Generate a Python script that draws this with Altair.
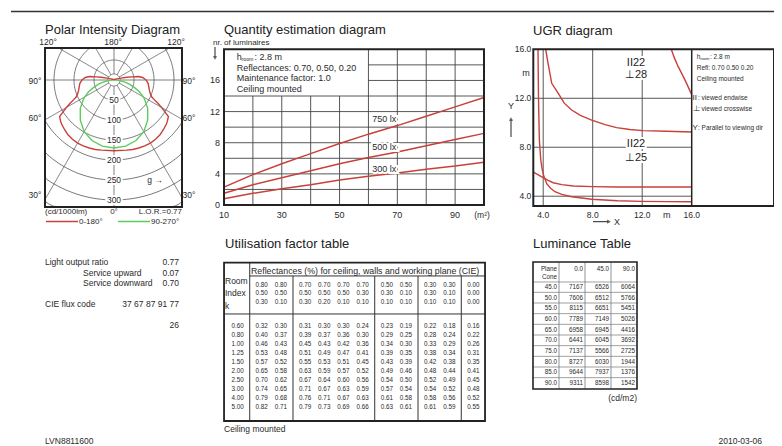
import altair as alt
import pandas as pd
import numpy as np

# ============================ DATA ============================
# Polar intensity (cd/1000 lm) versus gamma angle
polar_red_angle = [0, 10, 15, 20, 25, 30, 35, 40, 45, 50, 52, 56, 58, 60, 62, 64, 66, 70, 74, 80, 84, 90, 95, 98, 100, 102, 105, 110, 120, 150, 180]
polar_red_cd = [177, 178, 180, 181, 182, 182, 181, 179, 175, 171, 169, 164, 150, 137, 125, 112, 103, 96, 92, 88, 86, 80, 72, 62, 45, 33, 18, 8, 4, 1, 0]
polar_green_angle = [0, 10, 20, 30, 40, 50, 57, 60, 65, 70, 75, 80, 85, 90, 95, 180]
polar_green_cd = [170, 168, 161, 149, 131, 110, 92, 85, 70, 54, 40, 26, 14, 5, 0, 0]
polar_ring_labels = [50, 100, 150, 200, 250, 300]
polar_rings = [15, 50, 100, 150, 200, 250, 300, 350]
polar_spokes = [0, 30, 60, 90, 120, 150, 180, 210, 240, 270, 300, 330]

# Quantity estimation: number of luminaires vs room area (m2)
qty_area = [10, 20, 30, 40, 50, 60, 70, 80, 90, 100]
qty_750 = [2.3, 3.9, 5.3, 6.6, 7.9, 9.1, 10.2, 11.4, 12.6, 13.8]
qty_500 = [1.5, 2.6, 3.5, 4.4, 5.3, 6.1, 6.8, 7.6, 8.4, 9.2]
qty_300 = [0.8, 1.5, 2.1, 2.6, 3.2, 3.7, 4.1, 4.6, 5.0, 5.5]
qty_x_ticks = [10, 30, 50, 70, 90]
qty_y_ticks = [0, 4, 8, 12, 16]

# UGR diagram contours (X, Y in m)
ugr_a_x = [3.58, 3.62, 3.69, 3.8, 3.92, 4.06, 4.3, 4.6, 4.95, 5.5, 6.3, 7.92, 10.0, 12.0, 14.0, 16.0]
ugr_a_y = [16.0, 12.0, 8.6, 7.0, 6.2, 5.6, 5.0, 4.65, 4.37, 4.15, 3.96, 3.75, 3.63, 3.58, 3.56, 3.55]
ugr_b_x = [3.2, 3.6, 4.0, 4.4, 4.81, 5.5, 6.43, 8.0, 9.93, 12.0, 14.0, 16.0]
ugr_b_y = [5.97, 5.75, 5.51, 5.3, 5.1, 4.95, 4.83, 4.78, 4.75, 4.75, 4.75, 4.75]
ugr_c_x = [4.2, 4.4, 4.69, 5.22, 5.7, 6.3, 7.0, 7.92, 9.0, 9.93, 11.0, 12.07, 14.0, 16.0]
ugr_c_y = [16.0, 14.8, 13.22, 12.4, 11.6, 11.04, 10.6, 10.22, 9.85, 9.6, 9.45, 9.36, 9.3, 9.25]
ugr_d_x = [14.35, 14.6, 14.9, 15.18, 15.5, 16.0]
ugr_d_y = [16.0, 15.3, 14.6, 14.05, 13.4, 12.3]
ugr_ticks = [4.0, 8.0, 12.0, 16.0]
ugr_grid = [4.0, 8.0, 12.0]
ugr_labels = ["II22", "\u22a528", "II22", "\u22a525"]
ugr_label_x = [11.5, 11.5, 11.5, 11.5]
ugr_label_y = [14.9, 13.9, 8.27, 7.15]

# Utilisation factor table
uf_groups = [2, 4, 2, 2, 1]
uf_ceiling = ["0.80", "0.80", "0.70", "0.70", "0.70", "0.70", "0.50", "0.50", "0.30", "0.30", "0.00"]
uf_walls = ["0.50", "0.50", "0.50", "0.50", "0.50", "0.30", "0.30", "0.10", "0.30", "0.10", "0.00"]
uf_plane = ["0.30", "0.10", "0.30", "0.20", "0.10", "0.10", "0.10", "0.10", "0.10", "0.10", "0.00"]
uf_room_index = ["0.60", "0.80", "1.00", "1.25", "1.50", "2.00", "2.50", "3.00", "4.00", "5.00"]
uf_values = [
    ["0.32", "0.30", "0.31", "0.30", "0.30", "0.24", "0.23", "0.19", "0.22", "0.18", "0.16"],
    ["0.40", "0.37", "0.39", "0.37", "0.36", "0.30", "0.29", "0.25", "0.28", "0.24", "0.22"],
    ["0.46", "0.43", "0.45", "0.43", "0.42", "0.36", "0.34", "0.30", "0.33", "0.29", "0.26"],
    ["0.53", "0.48", "0.51", "0.49", "0.47", "0.41", "0.39", "0.35", "0.38", "0.34", "0.31"],
    ["0.57", "0.52", "0.55", "0.53", "0.51", "0.45", "0.43", "0.39", "0.42", "0.38", "0.35"],
    ["0.65", "0.58", "0.63", "0.59", "0.57", "0.52", "0.49", "0.46", "0.48", "0.44", "0.41"],
    ["0.70", "0.62", "0.67", "0.64", "0.60", "0.56", "0.54", "0.50", "0.52", "0.49", "0.45"],
    ["0.74", "0.65", "0.71", "0.67", "0.63", "0.59", "0.57", "0.54", "0.54", "0.52", "0.48"],
    ["0.79", "0.68", "0.76", "0.71", "0.67", "0.63", "0.61", "0.58", "0.58", "0.56", "0.52"],
    ["0.82", "0.71", "0.79", "0.73", "0.69", "0.66", "0.63", "0.61", "0.61", "0.59", "0.55"],
]

# Luminance table (cd/m2)
lum_header = ["0.0", "45.0", "90.0"]
lum_cone = ["45.0", "50.0", "55.0", "60.0", "65.0", "70.0", "75.0", "80.0", "85.0", "90.0"]
lum_c0 = [7167, 7606, 8115, 7789, 6958, 6441, 7137, 8727, 9644, 9311]
lum_c45 = [6526, 6512, 6651, 7149, 6945, 6045, 5566, 6030, 7937, 8598]
lum_c90 = [6064, 5766, 5451, 5026, 4416, 3692, 2725, 1944, 1376, 1542]

# ============================ STYLE ============================
FONT = "Liberation Sans"
TXT = "#2a2a2a"
GRID = "#555555"
DARK = "#222222"
RED = "#c8403c"
GREEN = "#5ccc5c"
M = 8  # page margin
W, H = 766, 438


def sc(d0, d1, p0, p1, clamp=False):
    kw = dict(domain=[d0, d1], range=[p0 - M, p1 - M], nice=False, zero=False)
    if clamp:
        kw["clamp"] = True
    return alt.Scale(**kw)


def xy(sx, sy):
    return dict(x=alt.X("x:Q", scale=sx, axis=None), y=alt.Y("y:Q", scale=sy, axis=None))


def texts(df, sx, sy, size, align="left", baseline="middle", color=TXT, halo=False, dx=0, dy=0):
    enc = xy(sx, sy)
    enc["text"] = alt.Text("t:N")
    props = dict(font=FONT, fontSize=size, align=align, baseline=baseline, dx=dx, dy=dy)
    out = []
    if halo:
        out.append(alt.Chart(df).mark_text(stroke="white", strokeWidth=4, fill="white", **props).encode(**enc))
    out.append(alt.Chart(df).mark_text(fill=color, **props).encode(**enc))
    return out


def T(xs, ys, ts):
    return pd.DataFrame({"x": xs, "y": ys, "t": ts})


def rules(df, sx, sy, color=GRID, width=0.8):
    return alt.Chart(df).mark_rule(color=color, strokeWidth=width).encode(
        x=alt.X("x:Q", scale=sx, axis=None), x2="x2:Q",
        y=alt.Y("y:Q", scale=sy, axis=None), y2="y2:Q")


def seg(x, x2, y, y2):
    return pd.DataFrame({"x": x, "x2": x2, "y": y, "y2": y2})


def frame(x0, x1, y0, y1, sx, sy, width=1.8, color=DARK):
    df = pd.DataFrame({"x": [x0], "x2": [x1], "y": [y0], "y2": [y1]})
    return alt.Chart(df).mark_rect(fill="white", fillOpacity=0, stroke=color, strokeWidth=width).encode(
        x=alt.X("x:Q", scale=sx, axis=None), x2="x2:Q",
        y=alt.Y("y:Q", scale=sy, axis=None), y2="y2:Q")


# ============================ PAGE PANEL ============================
spx = sc(0, 782, 0, 782)
spy = sc(0, 446, 0, 446)
page = []
page.append(alt.Chart(pd.DataFrame({"a": [0]})).mark_rule(color="#333333", strokeWidth=1.5).encode(
    x=alt.value(3), x2=alt.value(W), y=alt.value(3.5)))
page += texts(T([45, 224, 533, 225, 533], [34, 34, 35, 247.5, 248],
                ["Polar Intensity Diagram", "Quantity estimation diagram", "UGR diagram",
                 "Utilisation factor table", "Luminance Table"]), spx, spy, 13, baseline="alphabetic", color=DARK)
# polar angle labels
page += texts(T([48, 113, 176, 35, 35, 35, 189, 189, 189], [42, 42, 42, 81, 118, 195, 81, 118, 195],
                ["120°", "180°", "120°", "90°", "60°", "30°", "90°", "60°", "30°"]), spx, spy, 8.5, align="center")
page += texts(T([45], [211.5], ["(cd/1000lm)"]), spx, spy, 8)
page += texts(T([114], [211.5], ["0°"]), spx, spy, 8, align="center")
page += texts(T([182], [211.5], ["L.O.R.=0.77"]), spx, spy, 8, align="right")
page += texts(T([79, 151], [221.5, 221.5], ["0-180°", "90-270°"]), spx, spy, 8)
page.append(rules(seg([46], [78], [221.5], [221.5]), spx, spy, RED, 1.5))
page.append(rules(seg([118], [150], [221.5], [221.5]), spx, spy, GREEN, 1.5))
page += texts(T([155], [180], ["g \u2192"]), spx, spy, 8.5, align="center")
# light output text block
page += texts(T([45, 83, 83, 45], [262, 272.7, 282.7, 304],
                ["Light output ratio", "Service upward", "Service downward", "CIE flux code"]), spx, spy, 8.5)
page += texts(T([179, 179, 179, 179, 179], [262, 272.7, 282.7, 304, 325],
                ["0.77", "0.07", "0.70", "37 67 87 91 77", "26"]), spx, spy, 8.5, align="right")
# footer
page += texts(T([45], [441], ["LVN8811600"]), spx, spy, 8.5)
page += texts(T([762], [441], ["2010-03-06"]), spx, spy, 8.5, align="right")
# quantity diagram annotations
page += texts(T([213], [42.7], ["nr. of luminaires"]), spx, spy, 8)
page.append(rules(seg([215], [215], [47], [57]), spx, spy, DARK, 1))
page.append(alt.Chart(T([215], [58], [""])).mark_point(shape="triangle-down", filled=True, size=18, color=DARK).encode(**xy(spx, spy)))
page += texts(T([236.7, 236.7, 236.7, 236.7], [56.7, 67.7, 78.3, 89],
                ["h", "Reflectances: 0.70, 0.50, 0.20", "Maintenance factor: 1.0", "Ceiling mounted"]), spx, spy, 9)
page += texts(T([241.6], [59.3], ["room"]), spx, spy, 5.2)
page += texts(T([254.5], [56.7], [": 2.8 m"]), spx, spy, 9)
page += texts(T([482], [215], ["(m\u00b2)"]), spx, spy, 8.5, align="center")
# UGR annotations
page += texts(T([526, 511, 666.7, 617], [73.3, 106, 215, 222], ["m", "Y", "m", "X"]), spx, spy, 9, align="center")
page.append(rules(seg([511], [511], [137], [120]), spx, spy, DARK, 1))
page.append(alt.Chart(T([511], [119], [""])).mark_point(shape="triangle-up", filled=True, size=18, color=DARK).encode(**xy(spx, spy)))
page.append(rules(seg([593], [608], [221.7], [221.7]), spx, spy, DARK, 1))
page.append(alt.Chart(T([609], [221.7], [""])).mark_point(shape="triangle-right", filled=True, size=18, color=DARK).encode(**xy(spx, spy)))
page += texts(T([696.7, 696.7, 696.7], [57.3, 68.3, 79.3], ["h", "Refl: 0.70 0.50 0.20", "Ceiling mounted"]), spx, spy, 6.5)
page += texts(T([700.2], [59], ["room"]), spx, spy, 4)
page += texts(T([710], [57.3], [": 2.8 m"]), spx, spy, 6.5)
page += texts(T([692.5, 692.5, 692.5], [98.3, 109.3, 128.3], ["II", "\u22a5", "Y"]), spx, spy, 8)
page += texts(T([698, 698, 698], [98.3, 109.3, 128.3],
                [": viewed endwise", ": viewed crosswise", ": Parallel to viewing dir"]), spx, spy, 6.5)
page_panel = alt.layer(*page)

# ============================ POLAR PANEL ============================
P_CX, P_CY, P_K = 114, 80, 0.4
P_L, P_R, P_T, P_B = 45, 182, 48, 207
psx = sc((P_L - P_CX) / P_K, (P_R - P_CX) / P_K, P_L, P_R, clamp=True)
psy = sc((P_T - P_CY) / P_K, (P_B - P_CY) / P_K, P_T, P_B, clamp=True)

ring_df = pd.DataFrame([(r, a) for r in polar_rings for a in range(0, 362, 2)], columns=["r", "a"])
spoke_df = pd.DataFrame([(a, r) for a in polar_spokes for r in range(15, 404, 2)], columns=["a", "r"])
pol = []
for df, det, order in [(ring_df, "r", "a"), (spoke_df, "a", "r")]:
    pol.append(alt.Chart(df).transform_calculate(
        x="datum.r*sin(datum.a*PI/180)", y="datum.r*cos(datum.a*PI/180)"
    ).mark_line(color=GRID, strokeWidth=0.8).encode(
        **xy(psx, psy), detail=f"{det}:N", order=f"{order}:Q"))
pol += texts(T([0] * len(polar_ring_labels), polar_ring_labels, [str(v) for v in polar_ring_labels]),
             psx, psy, 8.5, align="center", halo=True)


def polar_curve(angles, cds, color):
    rows = []
    for side in (-1, 1):
        for a, c in zip(angles, cds):
            rows.append({"side": side, "ang": a, "cd": c})
    df = pd.DataFrame(rows)
    return alt.Chart(df).transform_calculate(
        x="datum.side*datum.cd*sin(datum.ang*PI/180)", y="datum.cd*cos(datum.ang*PI/180)",
        ord="datum.side*datum.ang"
    ).mark_line(color=color, strokeWidth=1.4).encode(**xy(psx, psy), order="ord:Q")


pol.append(polar_curve(polar_green_angle, polar_green_cd, GREEN))
pol.append(polar_curve(polar_red_angle, polar_red_cd, RED))
pol.append(frame((P_L - P_CX) / P_K, (P_R - P_CX) / P_K, (P_T - P_CY) / P_K, (P_B - P_CY) / P_K, psx, psy, 2))
polar_panel = alt.layer(*pol)

# ============================ QUANTITY PANEL ============================
qsx = sc(10, 100, 224, 484)
qsy = sc(0, 20, 205, 49.3)
q = []
vx = list(range(20, 100, 10))
q.append(rules(seg(vx, vx, [0] * len(vx), [14 if v < 60 else 20 for v in vx]), qsx, qsy, "#444444", 0.9))
hy = list(range(2, 20, 2))
q.append(rules(seg([10 if v <= 14 else 60 for v in hy], [100] * len(hy), hy, hy), qsx, qsy, "#444444", 0.9))
qdf = pd.DataFrame({"x": qty_area * 3, "y": qty_750 + qty_500 + qty_300,
                    "lux": ["750"] * 10 + ["500"] * 10 + ["300"] * 10})
q.append(alt.Chart(qdf).mark_line(color=RED, strokeWidth=1.5).encode(**xy(qsx, qsy), detail="lux:N"))
q += texts(T([65.5, 65.5, 65.5], [11.1, 7.5, 4.6], ["750 lx", "500 lx", "300 lx"]), qsx, qsy, 9, align="center", halo=True)
q += texts(T([10] * 5, qty_y_ticks, [str(v) for v in qty_y_ticks]), qsx, qsy, 9, align="right", dx=-4)
q += texts(T(qty_x_ticks, [0] * 5, [str(v) for v in qty_x_ticks]), qsx, qsy, 9, align="center", dy=10)
q.append(frame(10, 100, 0, 20, qsx, qsy, 2))
qty_panel = alt.layer(*q)

# ============================ UGR PANEL ============================
usx = sc(3.2, 16, 533.3, 691.7)
usy = sc(3.2, 16, 206, 49.3)
u = []
u.append(rules(seg(ugr_grid, ugr_grid, [3.2] * 3, [16] * 3), usx, usy, "#444444", 0.9))
u.append(rules(seg([3.2] * 3, [16] * 3, ugr_grid, ugr_grid), usx, usy, "#444444", 0.9))
udf = pd.concat([pd.DataFrame({"x": xs, "y": ys, "c": k, "i": range(len(xs))}) for k, xs, ys in
                 [("a", ugr_a_x, ugr_a_y), ("b", ugr_b_x, ugr_b_y), ("c", ugr_c_x, ugr_c_y), ("d", ugr_d_x, ugr_d_y)]])
u.append(alt.Chart(udf).mark_line(color=RED, strokeWidth=1.4).encode(**xy(usx, usy), detail="c:N", order="i:Q"))
u += texts(T(ugr_label_x, ugr_label_y, ugr_labels), usx, usy, 11, align="center", halo=True, color=DARK)
u += texts(T([3.2] * 4, ugr_ticks, [f"{v:.1f}" for v in ugr_ticks]), usx, usy, 8.5, align="right", dx=-2)
u += texts(T(ugr_ticks, [3.2] * 4, [f"{v:.1f}" for v in ugr_ticks]), usx, usy, 8.5, align="center", dy=9)
u_right = 16 + (774 - 691.7) / ((691.7 - 533.3) / 12.8)
u.append(rules(seg([16], [16], [3.2], [16]), usx, usy, DARK, 1.5))
u.append(frame(3.2, u_right, 3.2, 16, usx, usy, 2))
ugr_panel = alt.layer(*u)

# ============================ UTILISATION TABLE ============================
# column slots: k column, then value columns grouped with wider gaps between groups
slots, pos, gaps = [], 1.25, []
for gi, n in enumerate(uf_groups):
    for j in range(n):
        slots.append(pos)
        pos += 1.0
    gaps.append(slots[-1] + 0.625)
    pos += 0.25
tsx = sc(0, slots[-1], 237.7, 473.3)
tsy = sc(-7.06, 10.6, 262.7, 421)
t_l, t_r, t_t, t_b = -0.71, 12.86, -7.06, 10.6
tb = []
tb.append(rules(seg([0.625], [0.625], [t_t], [t_b]), tsx, tsy, "#333333", 1))
tb.append(rules(seg(gaps[:-1], gaps[:-1], [-5.58] * 4, [t_b] * 4), tsx, tsy, "#333333", 1))
tb.append(rules(seg([0.625, t_l], [t_r, t_r], [-5.58, -1.34], [-5.58, -1.34]), tsx, tsy, "#333333", 1))
tb += texts(T([0.69], [-6.17], ["Reflectances (%) for ceiling, walls and working plane (CIE)"]), tsx, tsy, 8.8)
tb += texts(T([-0.66] * 3, [-5.06, -3.65, -2.27], ["Room", "Index", "k"]), tsx, tsy, 8.5)
hdr = pd.DataFrame({"x": slots * 3, "y": [-4.58] * 11 + [-3.65] * 11 + [-2.64] * 11,
                    "t": uf_ceiling + uf_walls + uf_plane})
tb += texts(hdr, tsx, tsy, 6.3, align="center")
cells = pd.DataFrame([{"x": slots[j], "y": i, "t": uf_values[i][j]} for i in range(10) for j in range(11)]
                     + [{"x": 0, "y": i, "t": uf_room_index[i]} for i in range(10)])
tb += texts(cells, tsx, tsy, 6.3, align="center")
tb += texts(T([t_l], [11.45], ["Ceiling mounted"]), tsx, tsy, 8.5)
tb.append(frame(t_l, t_r, t_t, t_b, tsx, tsy, 1.8))
uf_panel = alt.layer(*tb)

# ============================ LUMINANCE TABLE ============================
lsx = sc(0, 4, 533, 637)
lsy = sc(0, 9, 287, 383)
l_t, l_b = -2.34, 9.56
lm = []
lm.append(rules(seg([1, 2, 3], [1, 2, 3], [l_t] * 3, [l_b] * 3), lsx, lsy, "#666666", 0.7))
hl = [-0.47] + [i + 0.5 for i in range(9)]
lm.append(rules(seg([0] * len(hl), [4] * len(hl), hl, hl), lsx, lsy, "#777777", 0.7))
lm += texts(T([1, 1, 2, 3, 4], [-1.69, -0.94, -1.69, -1.69, -1.69], ["Plane", "Cone"] + lum_header),
            lsx, lsy, 6.3, align="right", dx=-2)
lcells = pd.DataFrame([{"x": 1, "y": i, "t": lum_cone[i]} for i in range(10)]
                      + [{"x": 2, "y": i, "t": str(lum_c0[i])} for i in range(10)]
                      + [{"x": 3, "y": i, "t": str(lum_c45[i])} for i in range(10)]
                      + [{"x": 4, "y": i, "t": str(lum_c90[i])} for i in range(10)])
lm += texts(lcells, lsx, lsy, 6.3, align="right", dx=-2)
lm += texts(T([4], [10.4], ["(cd/m2)"]), lsx, lsy, 8.5, align="right")
lm.append(frame(0, 4, l_t, l_b, lsx, lsy, 1.6))
lum_panel = alt.layer(*lm)

# ============================ COMPOSE ============================
chart = alt.layer(page_panel, polar_panel, qty_panel, ugr_panel, uf_panel, lum_panel).resolve_scale(
    x="independent", y="independent"
).properties(
    width=W, height=H, autosize=alt.AutoSizeParams(type="none"), padding=0, background="white"
).configure_view(stroke=None)

chart.save("out.html", embed_options={"renderer": "svg", "actions": False})
